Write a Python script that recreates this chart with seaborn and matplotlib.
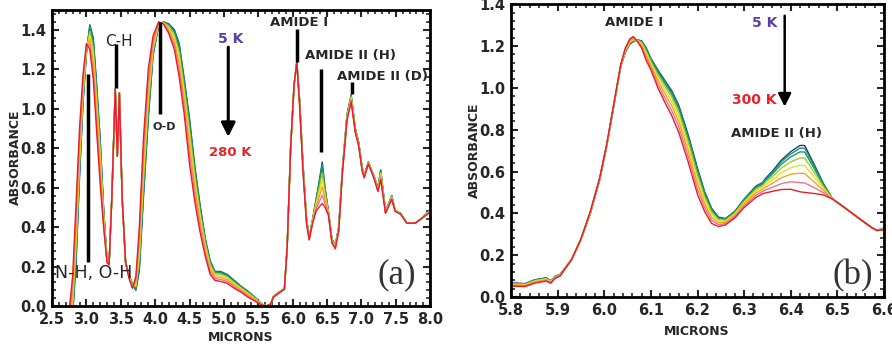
import numpy as np
import pandas as pd
import seaborn as sns
import matplotlib.pyplot as plt
from matplotlib.ticker import MultipleLocator, FormatStrFormatter

# ---- panel (a): full spectrum, 5 K -> 280 K
micron_a = [2.75, 2.80, 2.85, 2.90, 2.95, 3.00, 3.05, 3.10, 3.15, 3.20,
            3.25, 3.30, 3.33, 3.37, 3.42, 3.45, 3.48, 3.52, 3.57, 3.62,
            3.67, 3.72, 3.77, 3.83, 3.90, 3.97, 4.05, 4.12, 4.20, 4.28,
            4.35, 4.42, 4.50, 4.58, 4.65, 4.73, 4.80, 4.87, 4.95, 5.05,
            5.15, 5.25, 5.35, 5.45, 5.55, 5.62, 5.68, 5.72, 5.80, 5.88,
            5.92, 5.97, 6.02, 6.06, 6.10, 6.15, 6.20, 6.24, 6.29, 6.34,
            6.38, 6.43, 6.47, 6.52, 6.57, 6.62, 6.67, 6.72, 6.79, 6.85,
            6.91, 6.96, 7.01, 7.04, 7.10, 7.18, 7.24, 7.28, 7.35, 7.44,
            7.49, 7.57, 7.66, 7.78, 7.86, 7.98, 8.00]

a_5K = [-.200, -.050, .220, .650, 1.020, 1.280, 1.425, 1.360, 1.120, .850,
        .500, .230, .21, .55, 1.10, .76, 1.08, .55, .22, .160,
        .110, .080, .180, .550, .950, 1.270, 1.420, 1.440, 1.430, 1.400,
        1.330, 1.160, .950, .700, .520, .340, .230, .175, .175, .160,
        .130, .100, .075, .045, .010, 0, .01, .050, .070, .090,
        .30, .80, 1.12, 1.236, 1.050, .720, .450, .345, .440, .540,
        .620, .730, .600, .480, .340, .310, .400, .680, .970, 1.070,
        .900, .830, .700, .660, .730, .660, .600, .690, .480, .560,
        .485, .470, .42, .42, .44, .480, .480]
a_40K = [-.189, -.038, .238, .665, 1.029, 1.283, 1.418, 1.347, 1.106, .836,
         .494, .229, .21, .55, 1.10, .76, 1.08, .55, .22, .159,
         .109, .084, .193, .568, .965, 1.276, 1.421, 1.439, 1.427, 1.394,
         1.320, 1.149, .936, .689, .512, .335, .226, .172, .172, .157,
         .128, .098, .073, .044, .010, 0, .01, .050, .070, .090,
         .30, .80, 1.12, 1.236, 1.048, .718, .448, .344, .439, .536,
         .613, .717, .594, .479, .339, .309, .399, .679, .968, 1.068,
         .899, .829, .699, .659, .729, .659, .599, .687, .479, .559,
         .485, .470, .42, .42, .44, .479, .479]
a_80K = [-.175, -.022, .262, .685, 1.041, 1.287, 1.408, 1.331, 1.086, .818,
         .486, .229, .21, .55, 1.10, .76, 1.08, .55, .22, .157,
         .107, .090, .211, .592, .985, 1.284, 1.423, 1.439, 1.423, 1.386,
         1.306, 1.135, .918, .675, .500, .327, .220, .169, .168, .154,
         .124, .096, .071, .042, .009, 0, .01, .049, .069, .089,
         .30, .80, 1.12, 1.236, 1.046, .714, .446, .344, .437, .532,
         .603, .701, .586, .477, .337, .307, .397, .677, .966, 1.065,
         .897, .827, .698, .659, .729, .659, .597, .683, .479, .557,
         .484, .469, .42, .42, .44, .479, .479]
a_120K = [-.151, .004, .301, .718, 1.061, 1.294, 1.391, 1.303, 1.055, .788,
          .473, .227, .21, .55, 1.10, .76, 1.08, .55, .22, .155,
          .105, .099, .239, .631, 1.018, 1.297, 1.425, 1.437, 1.417, 1.373,
          1.284, 1.111, .888, .651, .482, .316, .211, .163, .162, .148,
          .119, .092, .067, .040, .009, 0, .01, .049, .069, .089,
          .30, .80, 1.12, 1.236, 1.042, .709, .442, .342, .435, .524,
          .588, .673, .573, .475, .335, .305, .395, .675, .962, 1.061,
          .895, .825, .696, .657, .727, .657, .595, .677, .477, .555,
          .484, .469, .42, .42, .44, .477, .477]
a_160K = [-.123, .036, .349, .758, 1.085, 1.302, 1.371, 1.270, 1.017, .751,
          .457, .226, .21, .55, 1.10, .76, 1.08, .55, .22, .151,
          .101, .110, .275, .679, 1.058, 1.313, 1.429, 1.436, 1.409, 1.357,
          1.257, 1.083, .851, .623, .460, .301, .200, .156, .154, .141,
          .113, .087, .062, .036, .008, 0, .01, .048, .068, .088,
          .30, .80, 1.12, 1.236, 1.037, .703, .437, .341, .431, .514,
          .568, .640, .557, .471, .331, .301, .391, .671, .957, 1.055,
          .891, .821, .694, .656, .726, .656, .591, .669, .476, .551,
          .483, .468, .42, .42, .44, .476, .476]
a_200K = [-.092, .070, .400, .800, 1.110, 1.310, 1.350, 1.234, .976, .712,
          .440, .224, .21, .55, 1.10, .76, 1.08, .55, .22, .148,
          .098, .122, .312, .730, 1.100, 1.330, 1.432, 1.434, 1.400, 1.340,
          1.228, 1.052, .812, .592, .436, .286, .188, .148, .145, .133,
          .106, .082, .057, .033, .007, 0, .01, .047, .067, .087,
          .30, .80, 1.12, 1.236, 1.032, .696, .432, .339, .428, .504,
          .548, .604, .540, .468, .328, .298, .388, .668, .952, 1.049,
          .888, .818, .691, .654, .724, .654, .588, .660, .474, .548,
          .482, .467, .42, .42, .44, .474, .474]
a_240K = [-.056, .110, .460, .850, 1.140, 1.320, 1.325, 1.192, .928, .666,
          .420, .222, .21, .55, 1.10, .76, 1.08, .55, .22, .144,
          .094, .136, .356, .790, 1.150, 1.350, 1.436, 1.432, 1.390, 1.320,
          1.194, 1.016, .766, .556, .408, .268, .174, .139, .135, .124,
          .098, .076, .051, .029, .006, 0, .01, .046, .066, .086,
          .30, .80, 1.12, 1.236, 1.026, .688, .426, .337, .424, .492,
          .524, .562, .520, .464, .324, .294, .384, .664, .946, 1.042,
          .884, .814, .688, .652, .722, .652, .584, .650, .472, .544,
          .481, .466, .42, .42, .44, .472, .472]
a_280K = [-.020, .150, .520, .900, 1.170, 1.330, 1.300, 1.150, .880, .620,
          .400, .220, .21, .55, 1.10, .76, 1.08, .55, .22, .140,
          .090, .150, .400, .850, 1.200, 1.370, 1.440, 1.430, 1.380, 1.300,
          1.160, .980, .720, .520, .380, .250, .160, .130, .125, .115,
          .090, .070, .045, .025, .005, 0, .01, .045, .065, .085,
          .30, .80, 1.12, 1.236, 1.020, .680, .420, .335, .420, .480,
          .500, .520, .500, .460, .320, .290, .380, .660, .940, 1.035,
          .880, .810, .685, .650, .720, .650, .580, .640, .470, .540,
          .480, .465, .42, .42, .44, .470, .470]
temps_a = ["5 K", "40 K", "80 K", "120 K", "160 K", "200 K", "240 K", "280 K"]
curves_a = [a_5K, a_40K, a_80K, a_120K, a_160K, a_200K, a_240K, a_280K]

# ---- panel (b): amide region, 5 K -> 300 K
micron_b = [5.80, 5.83, 5.85, 5.875, 5.885, 5.895, 5.905, 5.93, 5.95, 5.97,
            5.99, 6.005, 6.02, 6.035, 6.045, 6.055, 6.062, 6.07, 6.08, 6.09,
            6.10, 6.115, 6.13, 6.145, 6.16, 6.18, 6.20, 6.215, 6.23, 6.245,
            6.26, 6.28, 6.30, 6.325, 6.34, 6.345, 6.36, 6.38, 6.40, 6.42,
            6.43, 6.45, 6.47, 6.49, 6.52, 6.55, 6.575, 6.585, 6.60]

b_5K = [.068, .064, .082, .092, .078, .100, .108, .180, .275, .400,
        .560, .720, .910, 1.100, 1.170, 1.210, 1.220, 1.230, 1.225, 1.190,
        1.140, 1.085, 1.035, .985, .915, .775, .615, .505, .425, .382,
        .375, .410, .468, .530, .548, .565, .600, .655, .695, .725,
        .724, .635, .543, .468, .420, .370, .330, .318, .330]
b_40K = [.067, .063, .081, .091, .077, .099, .108, .180, .275, .401,
         .561, .721, .911, 1.101, 1.171, 1.212, 1.222, 1.230, 1.223, 1.186,
         1.137, 1.080, 1.029, .978, .907, .767, .608, .499, .421, .379,
         .373, .408, .466, .527, .545, .561, .594, .647, .684, .712,
         .711, .627, .540, .468, .420, .370, .330, .318, .330]
b_80K = [.066, .062, .080, .090, .076, .099, .107, .180, .276, .401,
         .561, .721, .911, 1.101, 1.173, 1.214, 1.224, 1.229, 1.220, 1.182,
         1.132, 1.073, 1.020, .968, .897, .757, .598, .492, .415, .376,
         .371, .406, .462, .522, .540, .555, .587, .635, .670, .694,
         .693, .615, .535, .468, .420, .370, .330, .318, .329]
b_120K = [.064, .060, .078, .088, .075, .097, .106, .180, .276, .403,
          .563, .723, .913, 1.103, 1.175, 1.217, 1.227, 1.229, 1.216, 1.174,
          1.125, 1.062, 1.007, .953, .880, .740, .581, .479, .405, .370,
          .367, .401, .457, .515, .533, .547, .574, .617, .646, .665,
          .664, .597, .528, .468, .420, .370, .330, .318, .328]
b_160K = [.061, .058, .075, .085, .073, .096, .105, .180, .277, .404,
          .564, .724, .914, 1.104, 1.179, 1.221, 1.231, 1.228, 1.210, 1.164,
          1.116, 1.048, .990, .933, .859, .719, .561, .464, .394, .363,
          .362, .396, .451, .507, .525, .536, .559, .594, .618, .630,
          .628, .575, .519, .468, .420, .370, .330, .318, .327]
b_200K = [.058, .056, .072, .082, .071, .094, .103, .180, .278, .406,
          .566, .726, .916, 1.106, 1.182, 1.225, 1.235, 1.227, 1.204, 1.154,
          1.107, 1.034, .972, .913, .837, .697, .540, .448, .381, .355,
          .357, .391, .444, .498, .516, .524, .543, .570, .587, .592,
          .590, .551, .510, .468, .420, .370, .330, .318, .325]
b_250K = [.055, .053, .069, .079, .068, .092, .102, .180, .279, .408,
          .568, .728, .918, 1.108, 1.186, 1.230, 1.240, 1.226, 1.197, 1.142,
          1.096, 1.017, .951, .889, .811, .671, .515, .429, .367, .346,
          .351, .384, .436, .487, .505, .511, .524, .542, .551, .547,
          .545, .523, .499, .468, .420, .370, .330, .318, .324]
b_300K = [.052, .050, .066, .076, .066, .090, .100, .180, .280, .410,
          .570, .730, .920, 1.110, 1.190, 1.235, 1.245, 1.225, 1.190, 1.130,
          1.085, 1.000, .930, .865, .785, .645, .490, .410, .352, .337,
          .345, .378, .428, .476, .494, .497, .505, .514, .515, .503,
          .500, .495, .488, .468, .420, .370, .330, .318, .322]
temps_b = ["5 K", "40 K", "80 K", "120 K", "160 K", "200 K", "250 K", "300 K"]
curves_b = [b_5K, b_40K, b_80K, b_120K, b_160K, b_200K, b_250K, b_300K]

colours = ['#1d3f6e', '#168f96', '#1c9e4b', '#9acd32', '#f2dc1b', '#f5a524', '#f07090', '#e41f2a']


def long_table(x, temps, curves):
    parts = []
    for t, ys in zip(temps, curves):
        parts.append(pd.DataFrame({'micron': x, 'absorbance': ys, 'T': t}))
    return pd.concat(parts, ignore_index=True)


def dress(ax, xmaj, xmin, ymaj, ymin):
    ax.xaxis.set_major_locator(MultipleLocator(xmaj))
    ax.xaxis.set_minor_locator(MultipleLocator(xmin))
    ax.yaxis.set_major_locator(MultipleLocator(ymaj))
    ax.yaxis.set_minor_locator(MultipleLocator(ymin))
    ax.xaxis.set_major_formatter(FormatStrFormatter('%.1f'))
    ax.yaxis.set_major_formatter(FormatStrFormatter('%.1f'))
    ax.tick_params(which='both', direction='in', top=True, right=True, labelsize=10.5, pad=4)
    ax.tick_params(which='major', length=5, width=1.5)
    ax.tick_params(which='minor', length=3, width=1.2)
    for s in ax.spines.values():
        s.set_linewidth(2)
        s.set_color('black')
    ax.set_xlabel('MICRONS', fontsize=9, fontweight='bold')
    ax.set_ylabel('ABSORBANCE', fontsize=9, fontweight='bold')


sns.set_style('ticks')
plt.rcParams['font.family'] = ['DejaVu Sans']
plt.rcParams['font.weight'] = 'bold'
plt.rcParams['axes.labelweight'] = 'bold'

dfa = long_table(micron_a, temps_a, curves_a)
dfb = long_table(micron_b, temps_b, curves_b)

fig = plt.figure(figsize=(8.92, 3.47), dpi=100)

# ---------------- (a)
ax1 = fig.add_axes([0.0583, 0.118, 0.424, 0.853])
sns.lineplot(data=dfa, x='micron', y='absorbance', hue='T', hue_order=temps_a,
             palette=dict(zip(temps_a, colours)), estimator=None, lw=1.0,
             legend=False, ax=ax1)
ax1.set_xlim(2.5, 8.0)
ax1.set_ylim(0, 1.5)
dress(ax1, 0.5, 0.1, 0.2, 0.04)
ax1.xaxis.set_label_coords(0.499, -0.084)
ax1.yaxis.set_label_coords(-0.079, 0.503)

marks_a = [(3.024, 0.224, 1.174), (3.437, 1.106, 1.329), (4.073, 0.975, 1.44),
           (6.058, 1.236, 1.405), (6.413, 0.781, 1.203), (6.859, 1.076, 1.135)]
for xm, y0, y1 in marks_a:
    ax1.plot([xm, xm], [y0, y1], color='black', lw=2.5, solid_capstyle='butt')

ax1.text(3.11, 0.165, 'N-H, O-H', fontsize=12.5, fontweight='normal', ha='center', va='center')
ax1.text(3.48, 1.343, 'C-H', fontsize=11, fontweight='normal', ha='center', va='center')
ax1.text(4.13, 0.906, 'O-D', fontsize=8, ha='center', va='center')
ax1.text(5.10, 1.355, '5 K', fontsize=10, color='#5b3fa5', ha='center', va='center')
ax1.text(5.09, 0.778, '280 K', fontsize=9.5, color='#e8242b', ha='center', va='center')
ax1.text(6.095, 1.439, 'AMIDE I', fontsize=9.5, ha='center', va='center')
ax1.text(6.837, 1.272, 'AMIDE II (H)', fontsize=9.5, ha='center', va='center')
ax1.text(7.306, 1.164, 'AMIDE II (D)', fontsize=9.5, ha='center', va='center')
ax1.text(7.52, 0.157, '(a)', fontsize=25, fontweight='normal', family='Liberation Serif',
         color='#333333', ha='center', va='center')
ax1.annotate('', xy=(5.063, 0.857), xytext=(5.063, 1.312),
             arrowprops=dict(arrowstyle='-|>,head_length=0.6,head_width=0.3',
                             color='black', lw=2.2, shrinkA=0, shrinkB=0, mutation_scale=14))

# ---------------- (b)
ax2 = fig.add_axes([0.573, 0.144, 0.418, 0.844])
sns.lineplot(data=dfb, x='micron', y='absorbance', hue='T', hue_order=temps_b,
             palette=dict(zip(temps_b, colours)), estimator=None, lw=1.0,
             legend=False, ax=ax2)
ax2.set_xlim(5.8, 6.6)
ax2.set_ylim(0, 1.4)
dress(ax2, 0.1, 0.02, 0.2, 0.04)
ax2.xaxis.set_label_coords(0.499, -0.096)
ax2.yaxis.set_label_coords(-0.08, 0.50)

ax2.text(6.064, 1.31, 'AMIDE I', fontsize=9.5, ha='center', va='center')
ax2.text(6.343, 1.31, '5 K', fontsize=10, color='#5b3fa5', ha='center', va='center')
ax2.text(6.322, 0.94, '300 K', fontsize=10, color='#e8242b', ha='center', va='center')
ax2.text(6.37, 0.78, 'AMIDE II (H)', fontsize=9.5, ha='center', va='center')
ax2.text(6.532, 0.10, '(b)', fontsize=25, fontweight='normal', family='Liberation Serif',
         color='#333333', ha='center', va='center')
ax2.annotate('', xy=(6.387, 0.91), xytext=(6.387, 1.345),
             arrowprops=dict(arrowstyle='-|>,head_length=0.6,head_width=0.3',
                             color='black', lw=1.8, shrinkA=0, shrinkB=0, mutation_scale=13))

fig.savefig('out.png', dpi=100)
